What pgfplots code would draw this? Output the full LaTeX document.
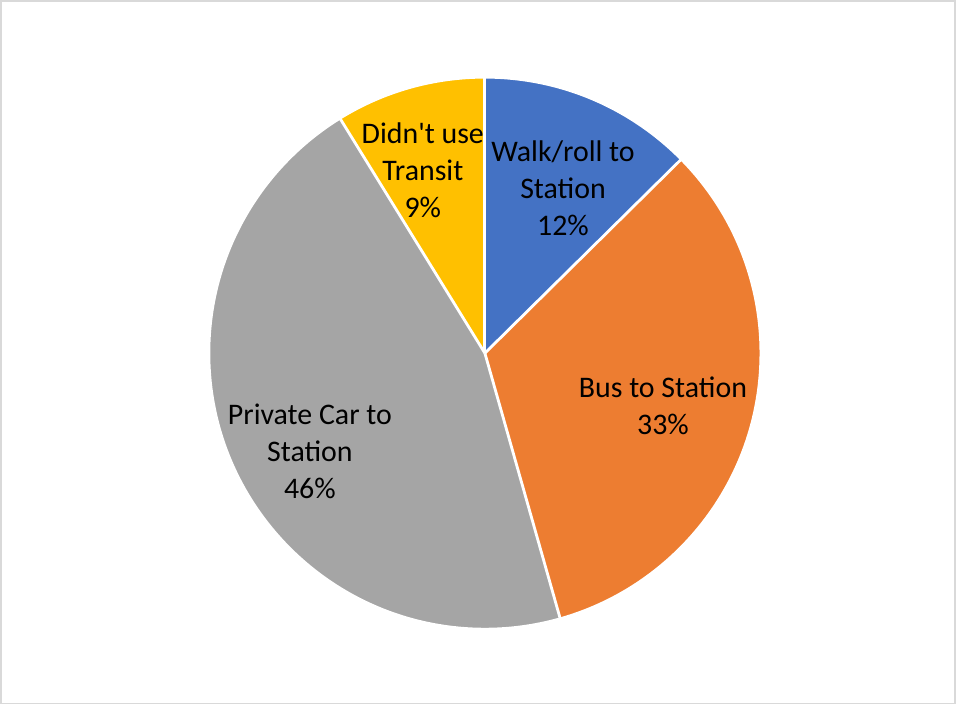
\documentclass[border=0pt]{standalone}
\usepackage{fontspec}
\setmainfont{Carlito}[Ligatures=TeXOff]
\usepackage{pgfplots}
\usepackage{pgfplotstable}
\pgfplotsset{compat=1.18}

\definecolor{cwalk}{HTML}{4472C4}
\definecolor{cbus}{HTML}{ED7D31}
\definecolor{ccar}{HTML}{A5A5A5}
\definecolor{cnone}{HTML}{FFC000}
\definecolor{cframe}{HTML}{D9D9D9}

% shares in percent, clockwise from 12 o'clock
\pgfplotstableread{
mode share
walk 12.6
bus  33.0
car  45.6
none 8.8
}\shares

\pgfplotstablegetelem{0}{share}\of\shares \let\sA\pgfplotsretval
\pgfplotstablegetelem{1}{share}\of\shares \let\sB\pgfplotsretval
\pgfplotstablegetelem{2}{share}\of\shares \let\sC\pgfplotsretval
\pgfplotstablegetelem{3}{share}\of\shares \let\sD\pgfplotsretval
\pgfmathsetmacro\aA{90}
\pgfmathsetmacro\aB{\aA-3.6*\sA}
\pgfmathsetmacro\aC{\aB-3.6*\sB}
\pgfmathsetmacro\aD{\aC-3.6*\sC}
\pgfmathsetmacro\aE{\aD-3.6*\sD}

\begin{document}
\begin{tikzpicture}
\begin{axis}[
  scale only axis,
  width=9.56cm, height=7.04cm,
  xmin=-1.757, xmax=1.707,
  ymin=-1.272, ymax=1.279,
  hide axis, clip=false,
  disabledatascaling,
]
\fill[cwalk] (axis cs:0,0) -- (axis cs:{cos(\aA)},{sin(\aA)}) arc[start angle=\aA, end angle=\aB, radius=1] -- cycle;
\fill[cbus]  (axis cs:0,0) -- (axis cs:{cos(\aB)},{sin(\aB)}) arc[start angle=\aB, end angle=\aC, radius=1] -- cycle;
\fill[ccar]  (axis cs:0,0) -- (axis cs:{cos(\aC)},{sin(\aC)}) arc[start angle=\aC, end angle=\aD, radius=1] -- cycle;
\fill[cnone] (axis cs:0,0) -- (axis cs:{cos(\aD)},{sin(\aD)}) arc[start angle=\aD, end angle=\aE, radius=1] -- cycle;
% white separators
\draw[white, line width=0.8pt] (axis cs:0,0) -- (axis cs:{cos(\aA)},{sin(\aA)});
\draw[white, line width=0.8pt] (axis cs:0,0) -- (axis cs:{cos(\aB)},{sin(\aB)});
\draw[white, line width=0.8pt] (axis cs:0,0) -- (axis cs:{cos(\aC)},{sin(\aC)});
\draw[white, line width=0.8pt] (axis cs:0,0) -- (axis cs:{cos(\aD)},{sin(\aD)});
\draw[white, line width=0.8pt] (axis cs:0,0) circle[radius=1];

\node[align=center, font=\fontsize{8.5}{10.5}\selectfont] at (axis cs:0.283,0.598) {Walk/roll to\\Station\\12\%};
\node[align=center, font=\fontsize{8.5}{10.5}\selectfont] at (axis cs:0.645,-0.192) {Bus to Station\\33\%};
\node[align=center, font=\fontsize{8.5}{10.5}\selectfont] at (axis cs:-0.634,-0.355) {Private Car to\\Station\\46\%};
\node[align=center, font=\fontsize{8.5}{10.5}\selectfont] at (axis cs:-0.225,0.663) {Didn't use\\Transit\\9\%};

\draw[cframe, line width=0.5pt] (rel axis cs:0.001,0.001) rectangle (rel axis cs:0.999,0.999);
\end{axis}
\end{tikzpicture}
\end{document}
